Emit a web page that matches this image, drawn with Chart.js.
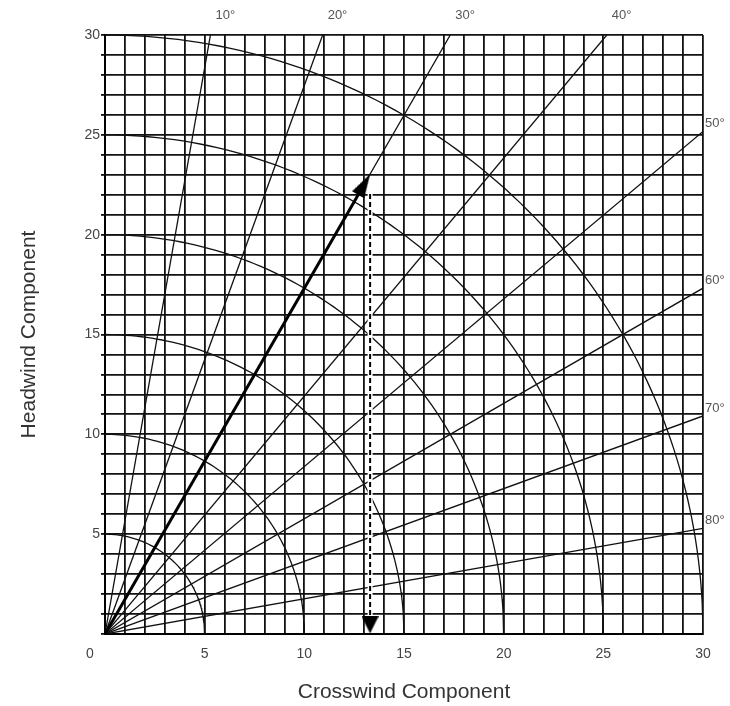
<!DOCTYPE html>
<html>
<head>
<meta charset="utf-8">
<script src="https://cdn.jsdelivr.net/npm/chart.js@4.4.0/dist/chart.umd.min.js"></script>
<style>
  html, body { margin: 0; padding: 0; background: #fff; }
</style>
</head>
<body>
<canvas id="wind-chart" width="730" height="706"></canvas>
<script>
  'use strict';
  // chart values
  var axisMax = 30;
  var tickLabels = [5, 10, 15, 20, 25, 30];
  var angles = [10, 20, 30, 40, 50, 60, 70, 80];   // degrees off the runway
  var radii = [5, 10, 15, 20, 25, 30];              // wind speed circles
  var windAngle = 30;
  var windSpeed = 26.6;

  var FONT = '"Liberation Sans", Arial, sans-serif';
  var rad = function(d) { return d * Math.PI / 180; };

  // point where a radial line leaves the square
  function edgePoint(a) {
    var s = Math.sin(rad(a)), c = Math.cos(rad(a));
    var t = axisMax / Math.max(s, c);
    return { x: t * s, y: t * c };
  }

  function arcPoints(r) {
    var pts = [];
    for (var d = 0; d <= 90; d++) pts.push({ x: r * Math.sin(rad(d)), y: r * Math.cos(rad(d)) });
    return pts;
  }

  function makeHead(w, h) {
    var c = document.createElement('canvas');
    c.width = w; c.height = h;
    var g = c.getContext('2d');
    g.fillStyle = '#000';
    g.beginPath();
    g.moveTo(w / 2, 0);
    g.lineTo(w, h);
    g.lineTo(0, h);
    g.closePath();
    g.fill();
    return c;
  }

  var crossX = windSpeed * Math.sin(rad(windAngle));
  var headY = windSpeed * Math.cos(rad(windAngle));
  var unitPx = 598 / axisMax;

  var datasets = [];
  // arrow heads
  datasets.push({
    data: [{ x: (windSpeed - 12 / unitPx) * Math.sin(rad(windAngle)), y: (windSpeed - 12 / unitPx) * Math.cos(rad(windAngle)) }],
    pointStyle: makeHead(14, 24), rotation: windAngle, pointRadius: 5, order: 0
  });
  datasets.push({
    data: [{ x: crossX, y: 9 / unitPx }],
    pointStyle: makeHead(17, 17), rotation: 180, pointRadius: 5, order: 0
  });
  // solid wind vector
  datasets.push({
    data: [{ x: 0, y: 0 }, { x: (windSpeed - 14 / unitPx) * Math.sin(rad(windAngle)), y: (windSpeed - 14 / unitPx) * Math.cos(rad(windAngle)) }],
    showLine: true, borderColor: '#000', borderWidth: 3, pointRadius: 0, order: 1
  });
  // dashed headwind drop
  datasets.push({
    data: [{ x: crossX, y: headY - 1.0 }, { x: crossX, y: 14 / unitPx }],
    showLine: true, borderColor: '#000', borderWidth: 2, borderDash: [5, 3], pointRadius: 0, order: 2
  });
  datasets.push({
    data: [{ x: crossX, y: headY - 1.0 }, { x: crossX, y: 14 / unitPx }],
    showLine: true, borderColor: '#fff', borderWidth: 5, pointRadius: 0, order: 3
  });
  angles.forEach(function(a) {
    datasets.push({
      data: [{ x: 0, y: 0 }, edgePoint(a)],
      showLine: true, borderColor: '#111', borderWidth: 1.3, pointRadius: 0, order: 5
    });
  });
  radii.forEach(function(r) {
    datasets.push({
      data: arcPoints(r),
      showLine: true, borderColor: '#111', borderWidth: 1.3, pointRadius: 0, order: 5
    });
  });

  var labelFilter = function(v) { return tickLabels.indexOf(v) >= 0 ? v : ''; };

  var overlay = {
    id: 'overlay',
    afterDraw: function(chart) {
      var ctx = chart.ctx, x = chart.scales.x, y = chart.scales.y;
      ctx.save();
      ctx.fillStyle = '#555';
      ctx.font = '13px ' + FONT;
      ctx.textAlign = 'left';
      ctx.textBaseline = 'middle';
      angles.forEach(function(a) {
        var e = edgePoint(a);
        var px = x.getPixelForValue(e.x), py = y.getPixelForValue(e.y);
        if (a < 45) ctx.fillText(a + '°', px + 5, py - 20);
        else ctx.fillText(a + '°', px + 2, py - 8);
      });
      ctx.fillStyle = '#444';
      ctx.font = '14px ' + FONT;
      ctx.textAlign = 'center';
      ctx.fillText('0', x.getPixelForValue(0) - 15, x.top + 20);
      ctx.restore();
    }
  };

  var windChart = new Chart(document.getElementById('wind-chart'), {
    type: 'scatter',
    data: { datasets: datasets },
    plugins: [overlay],
    options: {
      responsive: false,
      animation: false,
      layout: { padding: { top: 35, right: 27, left: 0, bottom: 0 } },
      plugins: { legend: { display: false }, tooltip: { enabled: false } },
      scales: {
        x: {
          type: 'linear', min: 0, max: axisMax,
          ticks: { stepSize: 1, maxTicksLimit: 31, autoSkip: false, maxRotation: 0, padding: 12,
                   color: '#444', font: { family: FONT, size: 14 }, callback: labelFilter },
          grid: { color: '#111', lineWidth: 1.8, drawTicks: false },
          border: { color: '#000', width: 2 },
          title: { display: true, text: 'Crosswind Component', color: '#333',
                   font: { family: FONT, size: 21 }, padding: { top: 0, bottom: 1 } },
          afterFit: function(s) { s.height = 72; }
        },
        y: {
          type: 'linear', min: 0, max: axisMax,
          ticks: { stepSize: 1, maxTicksLimit: 31, autoSkip: false, padding: 1,
                   color: '#444', font: { family: FONT, size: 14 }, callback: labelFilter },
          grid: { color: '#111', lineWidth: 1.8, drawTicks: true, tickLength: 4, tickColor: '#111' },
          border: { color: '#000', width: 2 },
          title: { display: true, text: 'Headwind Component', color: '#333',
                   font: { family: FONT, size: 21 }, padding: { top: 17, bottom: 0 } },
          afterFit: function(s) { s.width = 105; }
        }
      }
    }
  });
</script>
</body>
</html>
